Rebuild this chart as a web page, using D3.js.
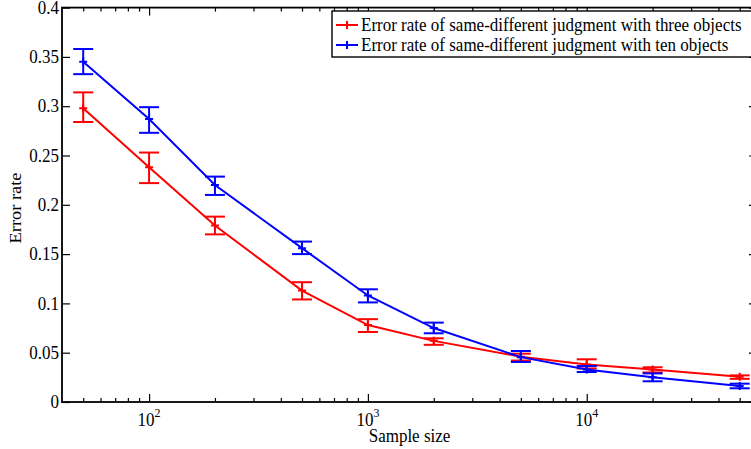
<!DOCTYPE html>
<html>
<head>
<meta charset="utf-8">
<script src="https://cdn.jsdelivr.net/npm/d3@7"></script>
<style>
  body { margin: 0; background: #fff; }
  svg { display: block; }
  text { font-family: "Liberation Serif", "Times New Roman", "DejaVu Serif", serif; fill: #000; }
</style>
</head>
<body>
<svg id="chart" width="751" height="449"></svg>
<script>
// Sample sizes on the (log) x axis
const sampleSizes = [50, 100, 200, 500, 1000, 2000, 5000, 10000, 20000, 50000];

// Three objects: mean error rate and error-bar bounds
const threeMean = [0.298, 0.238, 0.179, 0.113, 0.078, 0.062, 0.046, 0.038, 0.033, 0.0255];
const threeLow  = [0.284, 0.222, 0.170, 0.104, 0.071, 0.058, 0.042, 0.034, 0.030, 0.0235];
const threeHigh = [0.314, 0.253, 0.188, 0.1215, 0.084, 0.0646, 0.049, 0.0433, 0.0352, 0.027];

// Ten objects: mean error rate and error-bar bounds
const tenMean = [0.345, 0.287, 0.220, 0.156, 0.108, 0.075, 0.0455, 0.033, 0.025, 0.0162];
const tenLow  = [0.3325, 0.273, 0.210, 0.150, 0.101, 0.0697, 0.0406, 0.0304, 0.021, 0.0139];
const tenHigh = [0.358, 0.299, 0.2286, 0.1627, 0.1143, 0.0805, 0.0517, 0.0365, 0.029, 0.0186];

const seriesNames = [
  "Error rate of same-different judgment with three objects",
  "Error rate of same-different judgment with ten objects"
];
const seriesColors = ["#ff0000", "#0000ff"];

const yTicks = [0, 0.05, 0.1, 0.15, 0.2, 0.25, 0.3, 0.35, 0.4];
const yTickLabels = ["0", "0.05", "0.1", "0.15", "0.2", "0.25", "0.3", "0.35", "0.4"];
const xMajorTicks = [100, 1000, 10000];
const xMajorExponents = ["2", "3", "4"];
const xMinorTicks = [50, 60, 70, 80, 90, 200, 300, 400, 500, 600, 700, 800, 900,
  2000, 3000, 4000, 5000, 6000, 7000, 8000, 9000, 20000, 30000, 40000, 50000];
const xLabel = "Sample size";
const yLabel = "Error rate";

// Layout
const plotLeft = 62, plotRight = 757, plotTop = 7.6, plotBottom = 402;
const SY = 1.08;  // slight vertical stretch applied to text glyphs
const FS = 17;

const svg = d3.select("#chart");
const x = d3.scaleLog().domain([40, 60000]).range([plotLeft, plotRight]);
const y = d3.scaleLinear().domain([0, 0.4]).range([plotBottom, plotTop]);

const axisStroke = g => {
  g.select(".domain").remove();
  g.selectAll("line").attr("stroke", "#000").attr("stroke-width", 1.2);
  g.selectAll("text").remove();
};

// Tick marks on all four sides, pointing inward
svg.append("g").attr("transform", `translate(0,${plotBottom})`)
  .call(d3.axisBottom(x).tickValues(xMajorTicks).tickSizeInner(-8).tickSizeOuter(0)).call(axisStroke);
svg.append("g").attr("transform", `translate(0,${plotBottom})`)
  .call(d3.axisBottom(x).tickValues(xMinorTicks).tickSizeInner(-4).tickSizeOuter(0)).call(axisStroke);
svg.append("g").attr("transform", `translate(0,${plotTop})`)
  .call(d3.axisTop(x).tickValues(xMajorTicks).tickSizeInner(-8).tickSizeOuter(0)).call(axisStroke);
svg.append("g").attr("transform", `translate(0,${plotTop})`)
  .call(d3.axisTop(x).tickValues(xMinorTicks).tickSizeInner(-4).tickSizeOuter(0)).call(axisStroke);
svg.append("g").attr("transform", `translate(${plotLeft},0)`)
  .call(d3.axisLeft(y).tickValues(yTicks).tickSizeInner(-8).tickSizeOuter(0)).call(axisStroke);
svg.append("g").attr("transform", `translate(${plotRight},0)`)
  .call(d3.axisRight(y).tickValues(yTicks).tickSizeInner(-8).tickSizeOuter(0)).call(axisStroke);

// Axes box
svg.append("rect")
  .attr("x", plotLeft).attr("y", plotTop)
  .attr("width", plotRight - plotLeft).attr("height", plotBottom - plotTop)
  .attr("fill", "none").attr("stroke", "#000").attr("stroke-width", 1.8);

// Y tick labels
svg.append("g").selectAll("text").data(yTicks).join("text")
  .attr("transform", d => `translate(${plotLeft - 3},${y(d)}) scale(1,${SY})`)
  .attr("text-anchor", "end").attr("dy", "0.34em")
  .style("font-size", FS + "px")
  .text((d, i) => yTickLabels[i]);

// X tick labels as powers of ten
const xl = svg.append("g").selectAll("text").data(xMajorTicks).join("text")
  .attr("transform", d => `translate(${x(d)},${426}) scale(1,${SY})`)
  .attr("text-anchor", "middle")
  .style("font-size", FS + "px");
xl.append("tspan").text("10");
xl.append("tspan").attr("dy", -8).style("font-size", "12px").text((d, i) => xMajorExponents[i]);

// Axis titles
svg.append("text")
  .attr("transform", `translate(${(plotLeft + 751) / 2 + 3},${442}) scale(1,${SY})`)
  .attr("text-anchor", "middle").style("font-size", FS + "px").text(xLabel);
svg.append("text")
  .attr("transform", `translate(${21},${208}) scale(1,${SY}) rotate(-90)`)
  .attr("text-anchor", "middle").style("font-size", FS + "px").text(yLabel);

// Series
const series = [
  { mean: threeMean, low: threeLow, high: threeHigh },
  { mean: tenMean, low: tenLow, high: tenHigh }
];
const capHalf = 10, markHalf = 4;
const line = d3.line().x(d => x(d[0])).y(d => y(d[1]));

series.forEach((s, k) => {
  const c = seriesColors[k];
  const g = svg.append("g");
  const pts = sampleSizes.map((n, i) => [n, s.mean[i], s.low[i], s.high[i]]);
  g.append("path").attr("d", line(pts)).attr("fill", "none")
    .attr("stroke", c).attr("stroke-width", 2);
  const eb = g.selectAll("g.eb").data(pts).join("g").attr("class", "eb");
  eb.append("line")
    .attr("x1", d => x(d[0])).attr("x2", d => x(d[0]))
    .attr("y1", d => y(d[2])).attr("y2", d => y(d[3]));
  eb.append("line")
    .attr("x1", d => x(d[0]) - capHalf).attr("x2", d => x(d[0]) + capHalf)
    .attr("y1", d => y(d[2])).attr("y2", d => y(d[2]));
  eb.append("line")
    .attr("x1", d => x(d[0]) - capHalf).attr("x2", d => x(d[0]) + capHalf)
    .attr("y1", d => y(d[3])).attr("y2", d => y(d[3]));
  // '+' markers
  eb.append("path")
    .attr("d", d => `M${x(d[0]) - markHalf},${y(d[1])}H${x(d[0]) + markHalf}M${x(d[0])},${y(d[1]) - markHalf}V${y(d[1]) + markHalf}`);
  eb.selectAll("line,path").attr("stroke", c).attr("stroke-width", 2).attr("fill", "none");
});

// Legend
const lg = svg.append("g");
lg.append("rect").attr("x", 332).attr("y", 11).attr("width", 421).attr("height", 46)
  .attr("fill", "#fff").attr("stroke", "#000").attr("stroke-width", 1.4);
seriesNames.forEach((name, k) => {
  const cy = 25 + k * 20;
  lg.append("line").attr("x1", 336).attr("x2", 358).attr("y1", cy).attr("y2", cy)
    .attr("stroke", seriesColors[k]).attr("stroke-width", 2);
  lg.append("line").attr("x1", 347).attr("x2", 347).attr("y1", cy - markHalf).attr("y2", cy + markHalf)
    .attr("stroke", seriesColors[k]).attr("stroke-width", 2);
  lg.append("text")
    .attr("transform", `translate(361,${cy}) scale(1,${SY})`)
    .attr("dy", "0.34em").style("font-size", FS + "px").text(name);
});
</script>
</body>
</html>
